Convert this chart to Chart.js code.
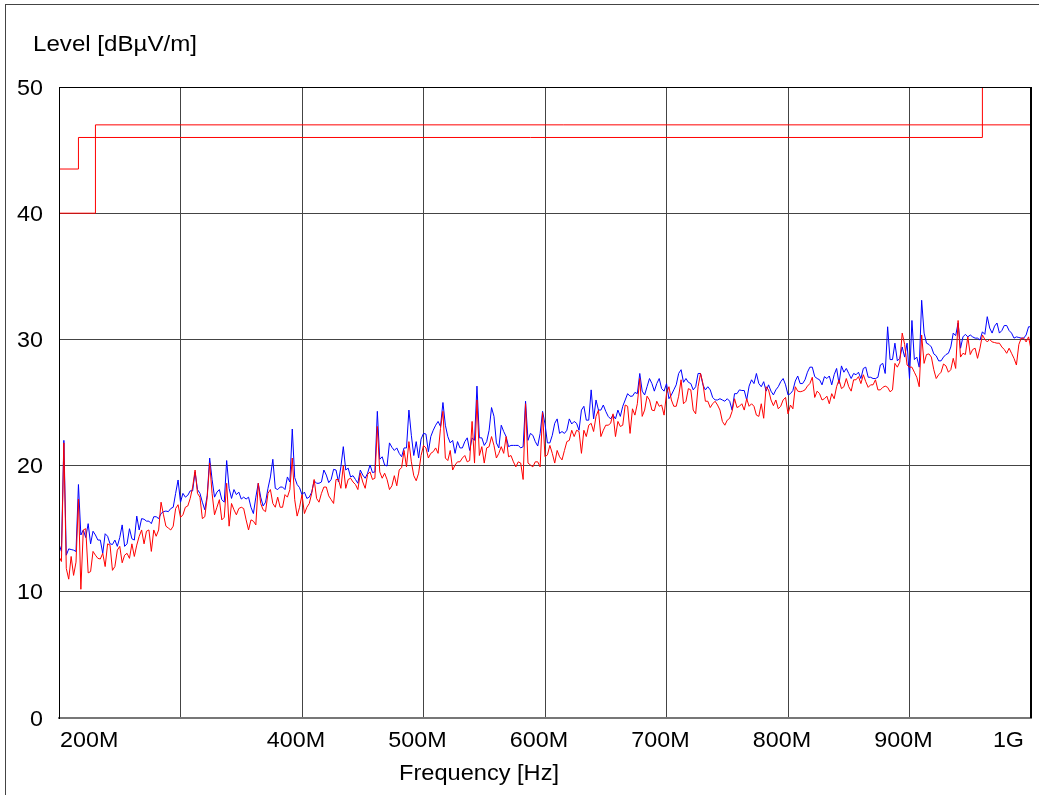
<!DOCTYPE html>
<html>
<head>
<meta charset="utf-8">
<script src="https://cdn.jsdelivr.net/npm/chart.js@4.4.1/dist/chart.umd.min.js"></script>
<style>
  html, body { margin: 0; padding: 0; background: #fff; }
  #wrap { position: relative; width: 1039px; height: 795px; }
</style>
</head>
<body>
<div id="wrap"><canvas id="emc"></canvas></div>
<script>
// sweep frequencies [MHz]
const freq = [
  200,202,204,206,208,210,212,214,216,218,220,222,224,226,228,230,232,234,236,238,
  240,242,244,246,248,250,252,254,256,258,260,262,264,266,268,270,272,274,276,278,
  280,282,284,286,288,290,292,294,296,298,300,302,304,306,308,310,312,314,316,318,
  320,322,324,326,328,330,332,334,336,338,340,342,344,346,348,350,352,354,356,358,
  360,362,364,366,368,370,372,374,376,378,380,382,384,386,388,390,392,394,396,398,
  400,402,404,406,408,410,412,414,416,418,420,422,424,426,428,430,432,434,436,438,
  440,442,444,446,448,450,452,454,456,458,460,462,464,466,468,470,472,474,476,478,
  480,482,484,486,488,490,492,494,496,498,500,502,504,506,508,510,512,514,516,518,
  520,522,524,526,528,530,532,534,536,538,540,542,544,546,548,550,552,554,556,558,
  560,562,564,566,568,570,572,574,576,578,580,582,584,586,588,590,592,594,596,598,
  600,602,604,606,608,610,612,614,616,618,620,622,624,626,628,630,632,634,636,638,
  640,642,644,646,648,650,652,654,656,658,660,662,664,666,668,670,672,674,676,678,
  680,682,684,686,688,690,692,694,696,698,700,702,704,706,708,710,712,714,716,718,
  720,722,724,726,728,730,732,734,736,738,740,742,744,746,748,750,752,754,756,758,
  760,762,764,766,768,770,772,774,776,778,780,782,784,786,788,790,792,794,796,798,
  800,802,804,806,808,810,812,814,816,818,820,822,824,826,828,830,832,834,836,838,
  840,842,844,846,848,850,852,854,856,858,860,862,864,866,868,870,872,874,876,878,
  880,882,884,886,888,890,892,894,896,898,900,902,904,906,908,910,912,914,916,918,
  920,922,924,926,928,930,932,934,936,938,940,942,944,946,948,950,952,954,956,958,
  960,962,964,966,968,970,972,974,976,978,980,982,984,986,988,990,992,994,996,998,
  1000
];

// blue trace [dBuV/m]
const blueLevel = [
  13.8,13.2,22.0,12.9,13.4,13.35,13.3,13.2,18.5,14.5,14.9,14.3,15.4,13.8,14.8,14.5,14.1,14.1,13.05,14.6,
  14.4,13.8,13.75,14.1,13.6,14.3,15.3,13.6,13.8,15.0,14.2,14.1,16.0,14.9,15.8,15.75,15.6,15.6,15.4,15.95,
  15.95,15.8,16.2,16.35,16.4,16.35,16.6,16.7,17.8,18.86,17.1,17.8,17.5,17.65,18.0,18.0,19.5,18.1,17.8,17.1,
  16.5,17.65,20.6,18.9,17.5,17.9,18.1,17.3,17.1,20.4,18.2,17.4,18.1,17.7,17.9,17.35,17.5,17.35,17.5,16.7,
  16.2,17.5,18.6,17.5,16.8,17.1,18.2,19.1,20.5,18.2,18.1,18.3,18.3,18.1,19.1,18.7,22.9,19.05,18.5,18.25,
  17.7,17.9,17.4,17.5,17.9,18.8,18.6,18.6,18.7,19.65,19.25,18.65,18.9,19.7,19.65,18.7,19.9,21.5,19.65,19.8,
  19.1,19.2,18.9,18.6,19.65,19.25,19.0,19.4,20.05,19.45,19.5,24.3,20.5,20.7,20.05,19.97,21.8,21.45,21.2,21.4,
  20.97,20.7,21.4,21.4,24.4,22.4,20.8,21.9,20.6,22.1,22.55,22.5,21.1,22.3,22.8,23.2,23.5,23.1,25.0,23.2,
  22.3,21.8,22.0,20.97,21.9,21.4,21.4,21.9,22.2,21.2,22.2,22.0,26.3,22.2,22.2,21.6,21.9,22.8,24.6,23.9,
  21.8,21.4,23.2,22.7,22.3,21.5,21.6,21.6,21.6,21.6,21.4,21.5,25.1,22.0,22.55,22.4,21.9,21.55,22.55,24.3,
  23.3,21.8,21.8,22.4,23.35,23.7,22.55,22.7,22.55,22.8,23.7,23.3,23.5,23.35,22.8,24.4,24.7,23.6,23.6,26.0,
  23.7,25.2,24.4,24.4,24.8,24.3,23.9,23.7,24.0,23.7,24.4,23.9,24.7,25.2,25.7,25.5,25.5,25.8,25.7,27.3,
  25.9,25.6,26.25,26.9,26.5,25.9,26.5,26.9,26.1,25.9,26.5,25.3,25.6,26.0,26.4,27.3,27.6,26.6,26.9,26.6,
  26.5,26.0,26.25,27.3,27.3,26.4,26.0,26.25,26.0,25.4,25.2,25.2,25.3,25.2,25.1,25.3,25.1,24.4,25.7,25.7,
  26.0,25.95,25.95,25.2,26.3,26.8,26.5,27.3,26.5,26.25,26.65,25.9,26.4,25.9,25.6,26.0,26.25,26.65,26.9,26.4,
  25.6,25.7,25.95,26.7,27.1,26.5,26.5,26.8,27.4,27.8,27.8,27.05,26.9,26.8,26.4,27.05,26.9,27.1,26.4,27.2,
  27.7,26.5,27.9,27.4,27.7,27.3,26.9,27.3,27.2,27.4,26.9,27.7,27.8,27.0,27.0,26.9,26.9,27.0,27.97,28.1,
  27.3,31.0,28.4,28.4,29.7,28.3,28.5,29.4,28.6,29.7,26.9,31.5,28.4,28.6,27.8,33.1,30.5,29.7,29.6,29.4,
  28.85,28.7,28.3,28.3,28.6,28.8,28.9,29.4,30.5,30.3,31.3,29.3,30.2,30.4,30.2,30.35,30.2,30.1,30.1,29.95,
  30.6,30.4,31.8,30.9,30.5,31.05,31.3,30.5,30.7,31.1,31.1,30.7,30.5,30.1,30.2,30.15,30.1,30.1,30.35,31.0,
  31.0
];

// red trace [dBuV/m]
const redLevel = [
  12.8,12.4,21.8,11.85,11.0,12.8,11.3,12.35,17.35,10.2,14.9,15.0,11.5,11.6,13.2,12.9,12.65,12.6,13.05,12.0,
  13.8,13.7,11.7,12.0,13.3,13.6,12.3,12.9,13.05,12.65,13.8,12.8,13.7,14.4,14.9,13.8,14.8,14.9,13.2,14.9,
  14.4,14.9,17.1,16.1,15.2,15.05,14.9,15.2,16.6,16.9,15.9,16.1,16.7,16.8,17.4,18.3,19.65,17.8,17.5,15.8,
  15.95,17.5,20.2,17.8,16.1,16.7,17.3,15.7,15.9,18.6,15.2,17.0,16.5,16.1,16.6,16.7,16.6,15.7,14.9,15.7,
  15.6,15.3,18.6,17.0,16.5,16.35,17.8,18.1,17.0,16.7,17.5,16.7,16.7,17.7,17.5,18.1,20.6,17.3,16.0,16.7,
  17.7,16.2,16.7,17.0,17.8,18.9,17.4,17.1,17.8,18.3,18.3,17.6,17.3,17.0,18.9,18.9,18.2,20.0,18.2,18.9,
  19.0,18.7,18.5,18.1,19.4,18.7,18.2,19.3,19.5,18.9,19.0,23.1,19.5,19.0,19.4,18.9,18.1,18.4,19.2,18.4,
  19.65,19.85,21.2,19.9,21.9,20.3,19.2,18.8,19.4,20.8,21.6,21.4,20.6,20.97,21.1,21.4,20.97,22.95,24.3,20.6,
  20.4,21.2,19.65,20.05,20.3,20.3,20.6,20.8,20.3,20.4,23.5,20.2,25.2,20.8,21.5,20.2,21.4,21.5,22.3,21.6,
  20.6,20.97,21.5,20.97,22.3,20.7,20.8,20.3,19.9,20.3,20.2,18.9,24.9,20.2,20.05,19.9,20.3,20.3,19.9,24.2,
  20.7,20.85,21.6,20.97,20.2,21.2,20.7,20.45,21.2,21.9,22.0,22.8,22.3,22.8,22.7,20.97,22.8,22.3,23.2,23.35,
  22.7,23.9,24.4,22.3,22.8,23.2,23.2,23.35,24.1,22.3,23.5,23.1,23.2,24.8,24.7,22.55,24.5,24.0,24.9,26.9,
  23.9,24.4,25.5,25.2,24.4,24.35,25.1,24.7,24.8,24.0,25.7,26.25,25.2,24.7,24.7,25.5,26.8,24.9,25.1,26.1,
  26.0,24.4,24.1,26.25,27.3,26.5,25.1,25.1,24.6,24.9,25.1,24.8,24.4,23.5,23.2,23.6,23.75,24.3,25.3,24.6,
  24.7,24.9,24.4,25.3,24.7,24.9,24.7,24.0,23.9,24.9,23.75,26.25,26.0,25.2,24.75,25.2,24.5,24.7,25.2,25.4,
  24.1,24.8,24.5,26.25,25.9,25.85,25.9,26.0,26.3,26.5,27.0,25.4,25.9,25.7,25.2,25.3,25.5,24.9,25.7,25.3,
  26.25,26.8,26.1,26.25,26.9,26.25,25.9,26.8,26.8,27.05,26.5,27.2,26.65,26.2,26.4,26.4,26.8,26.0,26.0,26.2,
  26.3,26.2,25.85,26.0,28.1,27.8,28.2,30.5,29.6,27.97,27.8,27.8,27.4,27.0,26.25,30.35,28.1,28.8,28.85,28.6,
  27.6,26.9,27.2,27.4,28.05,27.9,27.4,27.6,28.5,27.7,31.5,28.6,28.9,28.8,30.2,28.8,29.2,29.3,28.5,29.3,
  30.35,30.0,29.8,30.0,29.8,29.75,29.7,29.7,29.4,29.2,28.9,29.3,28.9,28.5,27.97,29.6,30.1,30.1,29.8,30.2,
  29.2
];

// limit lines: value holds until the next frequency
const limitAFreq = [200, 230, 1000];
const limitA = [40, 47, 47];
const limitBFreq = [200, 216, 960, 1000];
const limitB = [43.5, 46, 54, 54];

const xTicks = [200, 300, 400, 500, 600, 700, 800, 900, 1000];
const xTickLabels = ['200M', '', '400M', '500M', '600M', '700M', '800M', '900M', '1G'];
const yTicks = [0, 10, 20, 30, 40, 50];

const FONT = '22px "Liberation Sans", Arial, sans-serif';

function pts(xs, ys) {
  return xs.map((x, i) => ({ x: x, y: ys[i] }));
}

// text drawn a little wider than the font, like the original plot
function wideText(ctx, txt, x, y, align, sx) {
  const w = ctx.measureText(txt).width * sx;
  let x0 = x;
  if (align === 'center') x0 = x - w / 2;
  if (align === 'right') x0 = x - w;
  ctx.save();
  ctx.translate(x0, y);
  ctx.scale(sx, 1);
  ctx.textAlign = 'left';
  ctx.fillText(txt, 0, 0);
  ctx.restore();
}

const framePlugin = {
  id: 'frame',
  beforeDraw(chart) {
    const ctx = chart.ctx;
    ctx.save();
    ctx.fillStyle = '#fff';
    ctx.fillRect(0, 0, chart.width, chart.height);
    ctx.strokeStyle = '#444';
    ctx.lineWidth = 1;
    ctx.strokeRect(5.5, 4.5, 1200, 1000);
    ctx.restore();
  },
  afterDraw(chart) {
    const ctx = chart.ctx;
    const a = chart.chartArea;
    const xs = chart.scales.x;
    const ys = chart.scales.y;
    ctx.save();
    // plot frame
    ctx.strokeStyle = '#000';
    ctx.lineWidth = 1;
    ctx.beginPath();
    ctx.moveTo(a.left + 0.5, a.bottom);
    ctx.lineTo(a.left + 0.5, a.top + 0.5);
    ctx.lineTo(a.right, a.top + 0.5);
    ctx.stroke();
    ctx.lineWidth = 2;
    ctx.beginPath();
    ctx.moveTo(a.right, a.top);
    ctx.lineTo(a.right, a.bottom);
    ctx.stroke();

    ctx.fillStyle = '#000';
    ctx.font = FONT;
    ctx.textBaseline = 'alphabetic';
    // y tick labels
    yTicks.forEach(v => {
      wideText(ctx, String(v), 43, ys.getPixelForValue(v) + 7.5, 'right', 1.06);
    });
    // x tick labels
    xTicks.forEach((v, i) => {
      const txt = xTickLabels[i];
      if (!txt) return;
      const px = xs.getPixelForValue(v);
      if (i === 0) wideText(ctx, txt, px + 1, 747, 'left', 1.06);
      else if (i === xTicks.length - 1) wideText(ctx, txt, px - 7, 747, 'right', 1.06);
      else wideText(ctx, txt, px - 6, 747, 'center', 1.06);
    });
    // axis titles
    const t1 = 'Level [dBµV/m]';
    wideText(ctx, t1, 33, 51, 'left', 164 / ctx.measureText(t1).width);
    const t2 = 'Frequency [Hz]';
    wideText(ctx, t2, 479, 780, 'center', 160 / ctx.measureText(t2).width);
    ctx.restore();
  }
};

new Chart(document.getElementById('emc'), {
  type: 'line',
  data: {
    datasets: [
      { data: pts(limitAFreq, limitA), borderColor: '#ff0000', borderWidth: 1, stepped: 'before', pointRadius: 0 },
      { data: pts(limitBFreq, limitB), borderColor: '#ff0000', borderWidth: 1, stepped: 'before', pointRadius: 0 },
      { data: pts(freq, redLevel), borderColor: '#ff0000', borderWidth: 1, pointRadius: 0, tension: 0 },
      { data: pts(freq, blueLevel), borderColor: '#0000ff', borderWidth: 1, pointRadius: 0, tension: 0 }
    ]
  },
  options: {
    responsive: true,
    maintainAspectRatio: false,
    animation: false,
    events: [],
    layout: { padding: { top: 87, right: 8, left: 0, bottom: 0 } },
    plugins: { legend: { display: false }, tooltip: { enabled: false } },
    scales: {
      x: {
        type: 'linear',
        min: 200,
        max: 1000,
        afterFit(s) { s.height = 77; s.paddingLeft = 0; s.paddingRight = 0; },
        afterBuildTicks(s) { s.ticks = xTicks.map(v => ({ value: v })); },
        grid: { color: '#444', lineWidth: 1, drawTicks: false },
        border: { display: true, color: '#777', width: 2 },
        ticks: { display: false }
      },
      y: {
        min: 0,
        max: 50,
        afterFit(s) { s.width = 59; s.paddingTop = 0; s.paddingBottom = 0; },
        afterBuildTicks(s) { s.ticks = yTicks.map(v => ({ value: v })); },
        grid: { color: '#444', lineWidth: 1, drawTicks: false },
        border: { display: true, color: '#000', width: 1 },
        ticks: { display: false }
      }
    }
  },
  plugins: [framePlugin]
});
</script>
</body>
</html>
